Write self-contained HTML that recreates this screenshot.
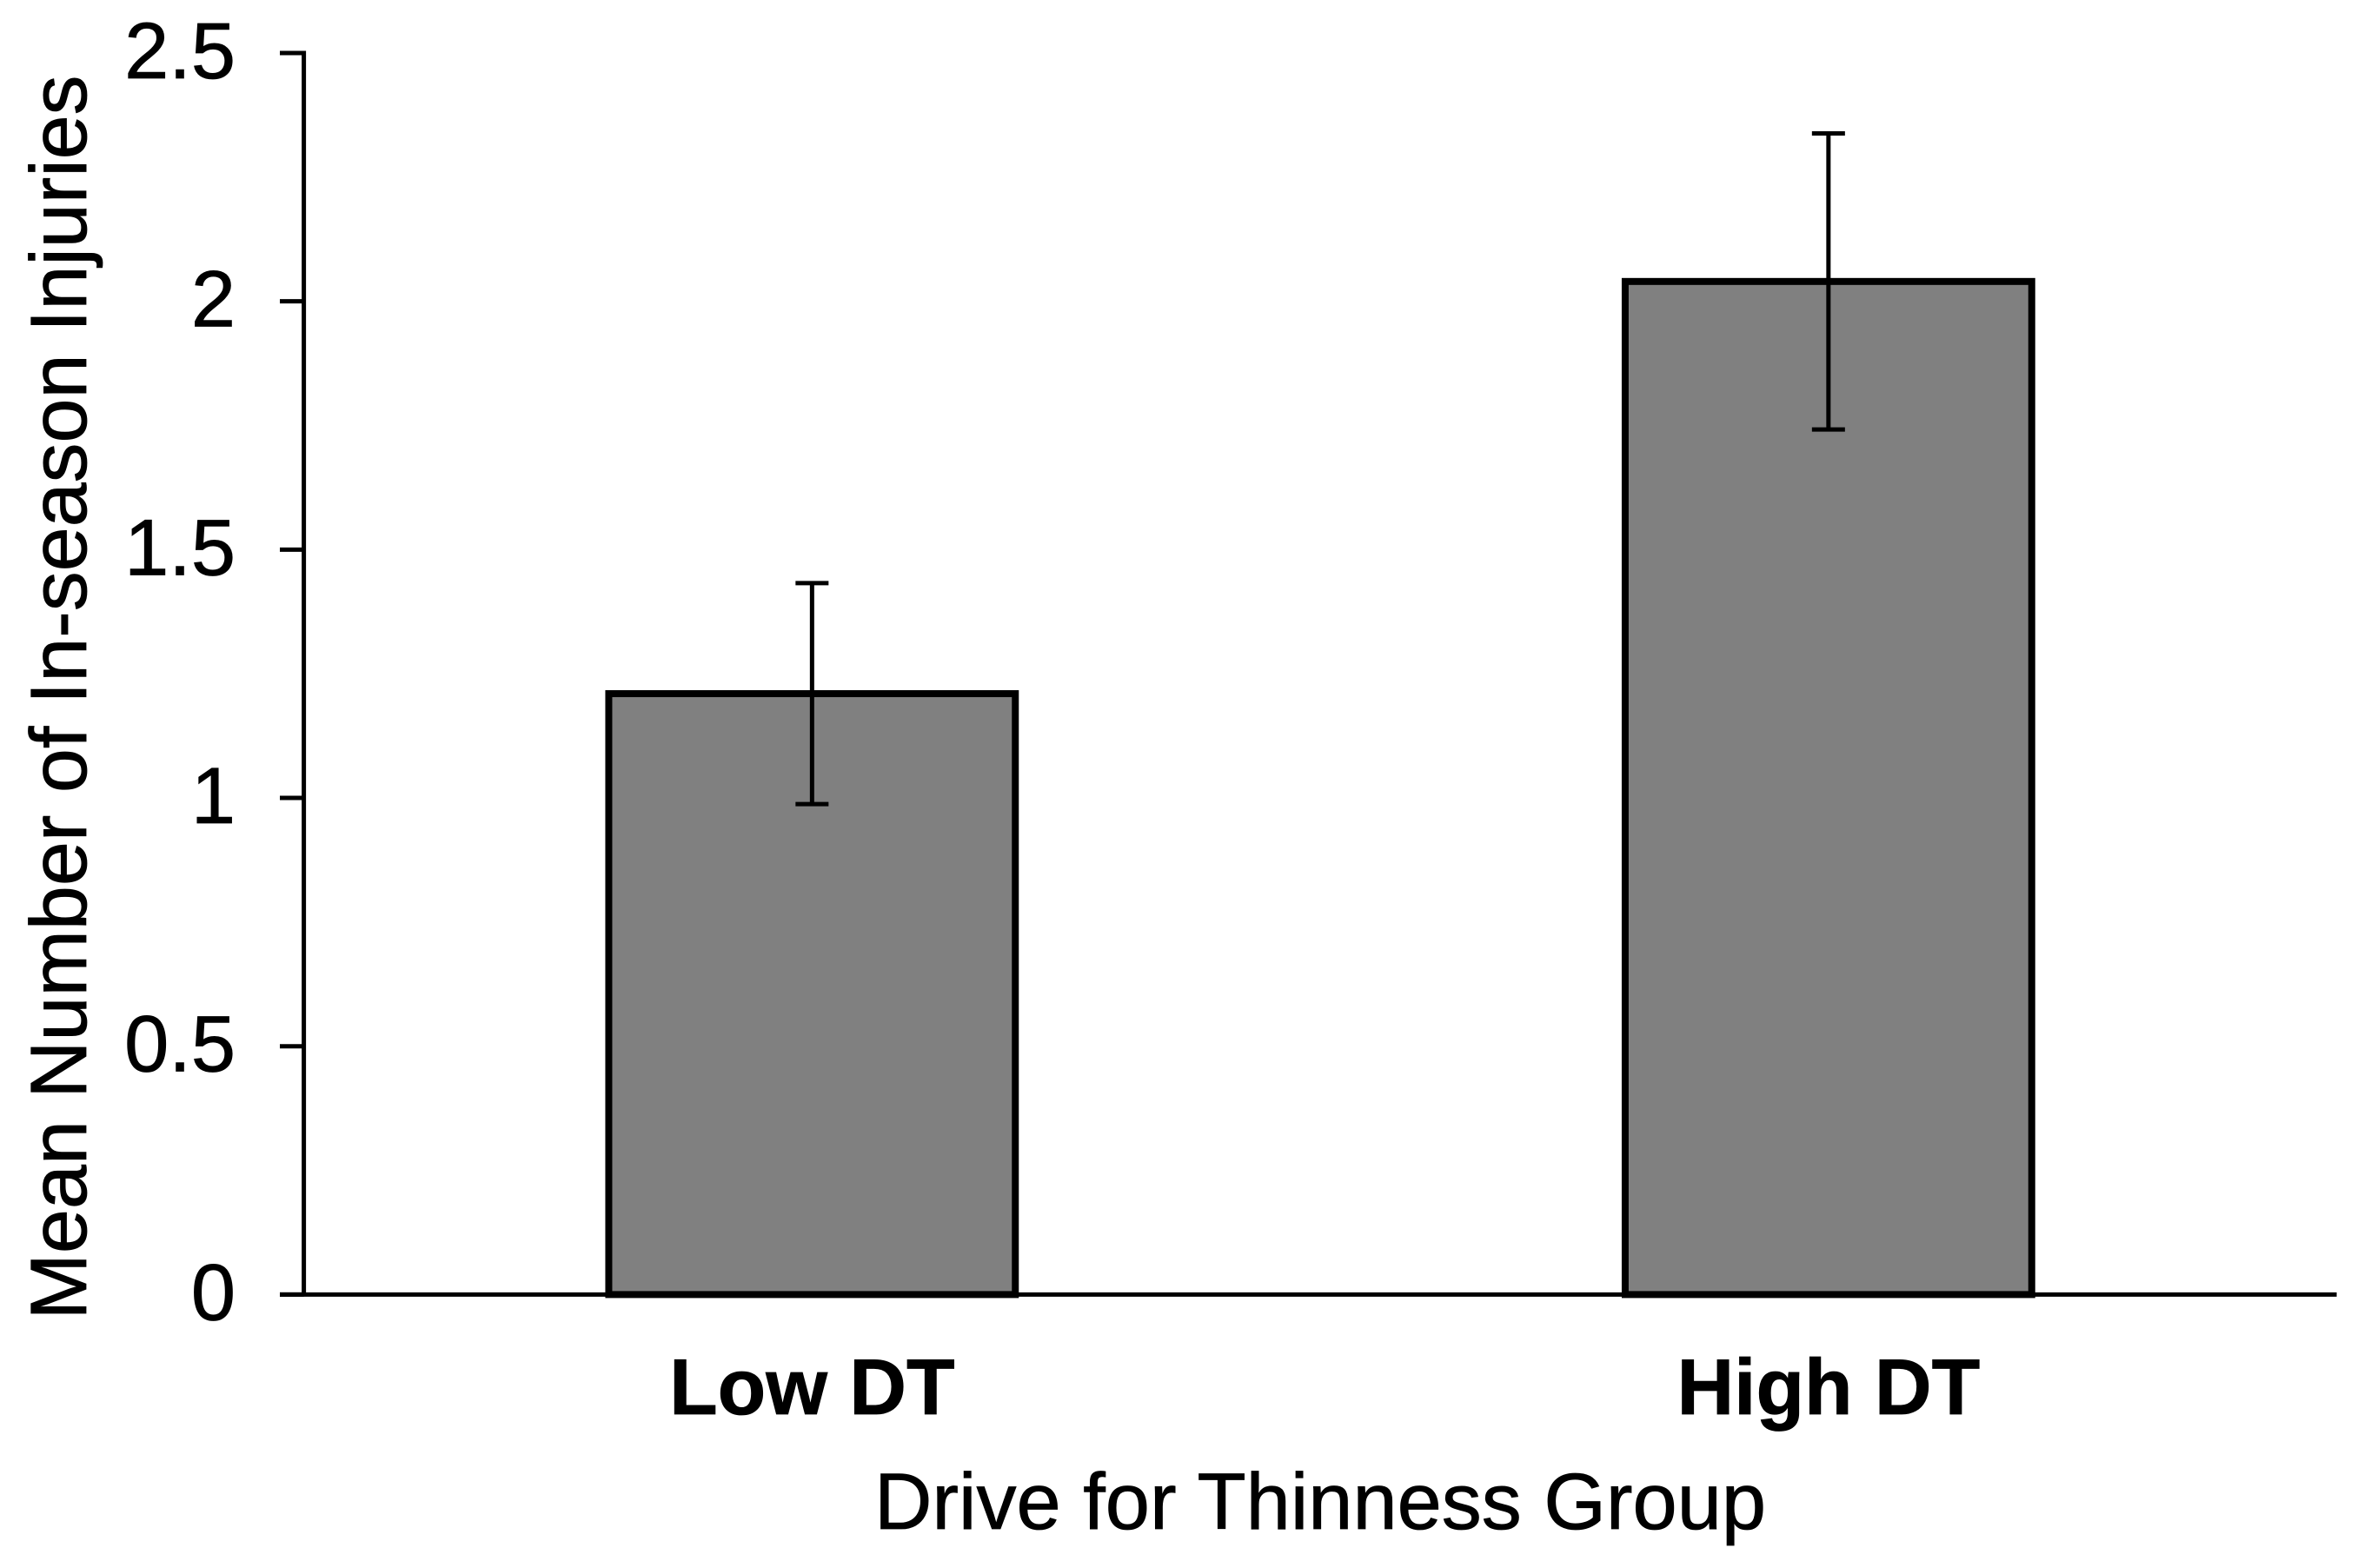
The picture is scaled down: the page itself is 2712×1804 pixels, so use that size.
<!DOCTYPE html>
<html lang="en">
<head>
<meta charset="utf-8">
<title>Mean Number of In-season Injuries by Drive for Thinness Group</title>
<style>
html,body{margin:0;padding:0;background:#fff;width:2712px;height:1804px;overflow:hidden}
svg{display:block}
text{font-family:"Liberation Sans",Arial,sans-serif;fill:#000;stroke:#000;stroke-width:0.8px}
</style>
</head>
<body>
<svg id="chart" xmlns="http://www.w3.org/2000/svg" width="2712" height="1804" viewBox="0 0 2712 1804">
  <g id="axes"></g>
  <g id="bars"></g>
  <g id="errors"></g>
  <g id="ylabels"></g>
  <g id="xlabels"></g>
  <text transform="translate(99,802.5) rotate(-90)" text-anchor="middle" font-size="91.7">Mean Number of In-season Injuries</text>
  <text x="1519" y="1759" text-anchor="middle" font-size="92">Drive for Thinness Group</text>
</svg>
<script>
const categories = ["Low DT", "High DT"];
const meanInjuries = [1.21, 2.04];
const errorMargins = [0.2225, 0.298];
const yTickValues = [0, 0.5, 1, 1.5, 2, 2.5];
const yTickLabels = ["0", "0.5", "1", "1.5", "2", "2.5"];

const NS = "http://www.w3.org/2000/svg";
const plotLeft = 349.6, plotRight = 2688.6, plotTop = 61, plotBottom = 1489.4;
const yMax = 2.5, barFraction = 0.4;
const yScale = v => plotBottom - (v / yMax) * (plotBottom - plotTop);
const bandWidth = (plotRight - plotLeft) / categories.length;
const xScale = i => plotLeft + bandWidth * (i + 0.5);

function make(tag, parent, attrs) {
  const el = document.createElementNS(NS, tag);
  for (const k in attrs) el.setAttribute(k, attrs[k]);
  parent.appendChild(el);
  return el;
}
const axes = document.getElementById("axes");
const bars = document.getElementById("bars");
const errors = document.getElementById("errors");
const ylabels = document.getElementById("ylabels");
const xlabels = document.getElementById("xlabels");

const yAxis = make("line", axes, {x1: plotLeft, x2: plotLeft, y1: plotTop - 2.5, y2: plotBottom, stroke: "#000", "stroke-width": 5});


const xAxis = make("line", axes, {x1: 322, x2: plotRight, y1: plotBottom, y2: plotBottom, stroke: "#000", "stroke-width": 5});



yTickValues.forEach((v, i) => {
  const y = yScale(v);
  const tick = make("line", axes, {x1: 322, x2: plotLeft, y1: y, y2: y, stroke: "#000", "stroke-width": 5});
  
  
  const label = make("text", ylabels, {x: 271, y: y + 29, "text-anchor": "end", "font-size": 92});
  
  
  label.textContent = yTickLabels[i];
});

categories.forEach((c, i) => {
  const cx = xScale(i);
  const w = bandWidth * barFraction;
  const bar = make("rect", bars, {x: cx - w / 2, y: yScale(meanInjuries[i]), width: w, height: yScale(0) - yScale(meanInjuries[i]), fill: "#808080", stroke: "#000", "stroke-width": 8});
  
  

  const top = yScale(meanInjuries[i] + errorMargins[i]);
  const bottom = yScale(meanInjuries[i] - errorMargins[i]);
  const stem = make("line", errors, {x1: cx, x2: cx, y1: top, y2: bottom, stroke: "#000", "stroke-width": 5});
  
  
  const capTop = make("line", errors, {x1: cx - 19, x2: cx + 19, y1: top, y2: top, stroke: "#000", "stroke-width": 5});
  
  
  const capBottom = make("line", errors, {x1: cx - 19, x2: cx + 19, y1: bottom, y2: bottom, stroke: "#000", "stroke-width": 5});
  
  

  const label = make("text", xlabels, {x: cx, y: 1627, "text-anchor": "middle", "font-size": 91, "font-weight": "bold"});
  
  
  label.textContent = c;
});
</script>
</body>
</html>
